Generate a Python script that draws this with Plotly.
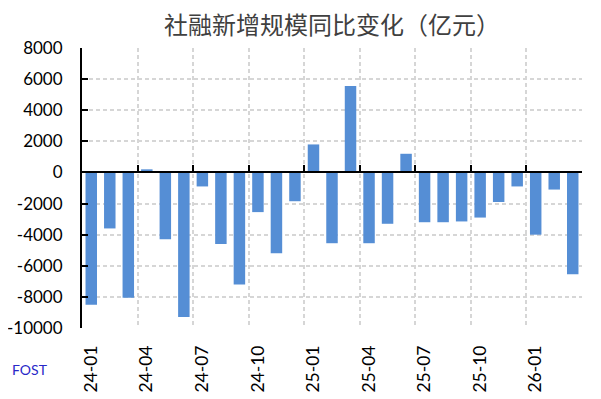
import plotly.graph_objects as go

months = ["24-01", "24-02", "24-03", "24-04", "24-05", "24-06", "24-07", "24-08", "24-09",
          "24-10", "24-11", "24-12", "25-01", "25-02", "25-03", "25-04", "25-05", "25-06",
          "25-07", "25-08", "25-09", "25-10", "25-11", "25-12", "26-01", "26-02", "26-03"]
values = [-8500, -3600, -8050, 200, -4300, -9300, -900, -4600, -7200,
          -2550, -5200, -1850, 1800, -4550, 5550, -4550, -3300, 1200,
          -3200, -3200, -3150, -2900, -1900, -900, -4000, -1100, -6550]

title_text = "社融新增规模同比变化（亿元）"
source_text = "FOST"
y_min, y_max, y_step = -10000, 8000, 2000
y_ticks = list(range(y_min, y_max + 1, y_step))
y_tick_labels = [str(v) for v in y_ticks]  # plain hyphen-minus, as in the reference
label_every = 3

# the page body adds an 8px offset, so the figure is drawn 8px smaller
OFF = 8
W, H = 601 - OFF, 399 - OFF
ML, MT = 82 - OFF, 48 - OFF
MR, MB = 19, 71

bar_color = "#558ED5"
grid_color = "#D6D6D6"
font_lat = "Lato, Liberation Sans, sans-serif"

n = len(months)
idx = list(range(n))

fig = go.Figure()
fig.add_trace(go.Bar(x=months, y=values, marker=dict(color=bar_color, line=dict(width=0)),
                     showlegend=False, hoverinfo="x+y"))
# invisible copy on a numeric overlay axis: carries the category-boundary grid
# and the tick marks on the zero line
fig.add_trace(go.Scatter(x=idx, y=values, xaxis="x2", mode="markers",
                         marker=dict(opacity=0, size=1), showlegend=False, hoverinfo="skip"))

zero_frac = (0 - y_min) / (y_max - y_min)
pw, ph = W - ML - MR, H - MT - MB

fig.update_layout(
    width=W, height=H,
    margin=dict(l=ML, r=MR, t=MT, b=MB, pad=0),
    paper_bgcolor="white", plot_bgcolor="white",
    bargap=0.38,
    title=dict(text=title_text, x=(332 - OFF) / W, xanchor="center", xref="container",
               y=1 - (25.5 - OFF) / H, yanchor="middle", yref="container",
               font=dict(family="Noto Sans CJK SC", size=24, color="#404040")),
    xaxis=dict(type="category", anchor="y", side="bottom", dtick=label_every,
               showline=False, ticks="", tickangle=-90, ticklabelstandoff=13,
               tickfont=dict(family=font_lat, size=17.5, color="black"),
               showgrid=False, range=[-0.5, n - 0.5], zeroline=False, automargin=False),
    xaxis2=dict(type="linear", overlaying="x", anchor="free", position=zero_frac,
                side="bottom", range=[-0.5, n - 0.5], tick0=-0.5, dtick=label_every,
                showline=True, linecolor="black", linewidth=2,
                ticks="inside", ticklen=6, tickwidth=2, tickcolor="black",
                showticklabels=False, showgrid=True, gridcolor=grid_color,
                griddash="4px,3px", gridwidth=1.5, zeroline=False, automargin=False),
    yaxis=dict(range=[y_min, y_max], tickmode="array", tickvals=y_ticks, ticktext=y_tick_labels,
               showline=True, linecolor="black",
               linewidth=2, ticks="inside", ticklen=6, tickwidth=2, tickcolor="black",
               ticklabelstandoff=14, automargin=False,
               tickfont=dict(family=font_lat, size=17, color="black"),
               showgrid=True, gridcolor=grid_color, griddash="4px,3px", gridwidth=1.5,
               zeroline=False),
    annotations=[dict(text=source_text, xref="paper", yref="paper",
                      x=(30 - 82) / pw, y=(328 - 369) / ph,
                      xanchor="center", yanchor="middle", showarrow=False,
                      font=dict(family=font_lat, size=14, color="#2828C8"))],
)

fig.write_html("out.html")
